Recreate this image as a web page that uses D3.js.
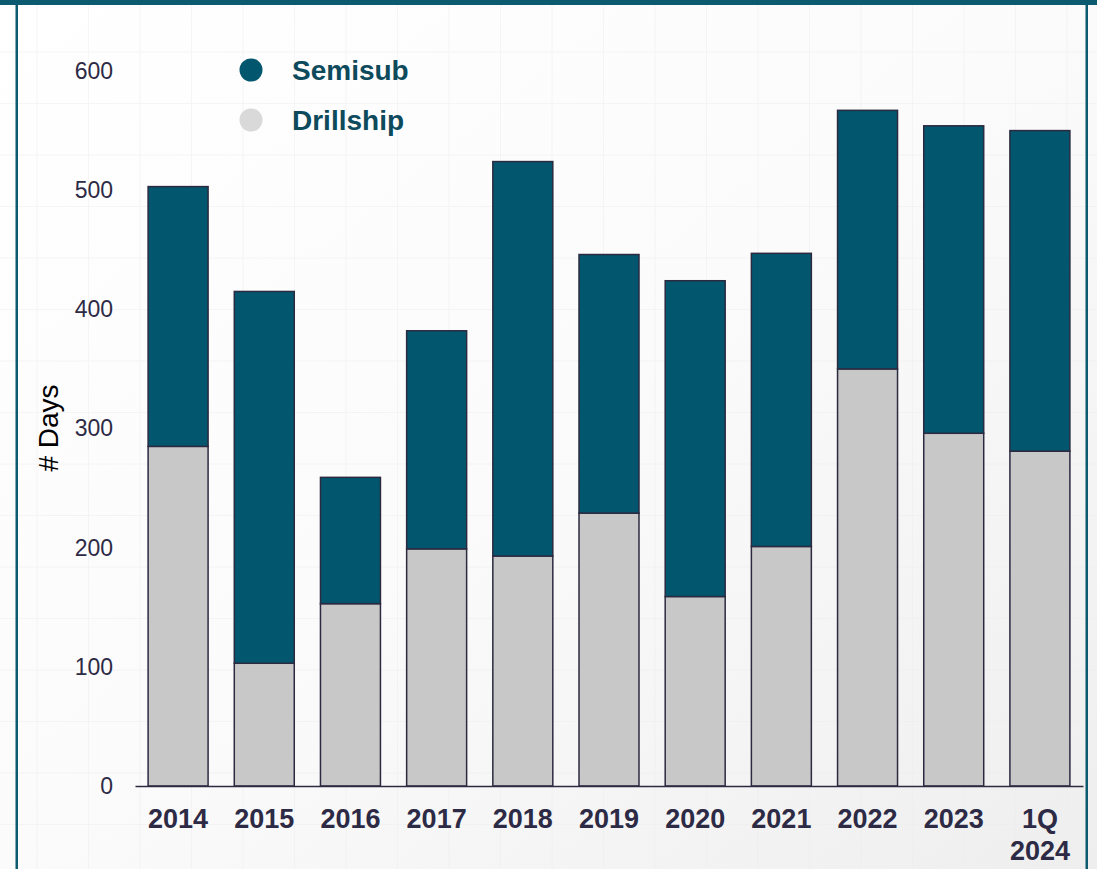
<!DOCTYPE html>
<html>
<head>
<meta charset="utf-8">
<script src="https://cdn.jsdelivr.net/npm/d3@7"></script>
<style>
  body { margin: 0; background: #fff; }
  svg { display: block; font-family: "Liberation Sans", Arial, sans-serif; }
</style>
</head>
<body>
<div id="chart"></div>
<script>
var categories = ["2014", "2015", "2016", "2017", "2018", "2019", "2020", "2021", "2022", "2023", "1Q 2024"];
var drillship = [285, 103, 153, 199, 193, 229, 159, 201, 350, 296, 281];
var semisub   = [218, 312, 106, 183, 331, 217, 265, 246, 217, 258, 269];
var yTicks = [0, 100, 200, 300, 400, 500, 600];
var seriesNames = ["Semisub", "Drillship"];

var width = 1097, height = 869,
    margin = {top: 71, right: 14, bottom: 83, left: 135},
    color = {Semisub: "#02566e", Drillship: "#c8c8c8"};

var svg = d3.select("#chart").append("svg")
    .attr("width", width)
    .attr("height", height);

// background: soft gradient + faint grid
var defs = svg.append("defs");
var grad = defs.append("linearGradient")
    .attr("id", "bg").attr("x1", "0").attr("y1", "0").attr("x2", "1").attr("y2", "1");
grad.append("stop").attr("offset", "0").attr("stop-color", "#ffffff");
grad.append("stop").attr("offset", "0.5").attr("stop-color", "#fbfbfb");
grad.append("stop").attr("offset", "1").attr("stop-color", "#eeeeee");
svg.append("rect").attr("width", width).attr("height", height).attr("fill", "url(#bg)");

var grid = svg.append("g").attr("stroke", "#eeeeee").attr("stroke-width", 1).attr("opacity", 0.5);
d3.range(37, width, 51.5).forEach(function(x) {
  grid.append("line").attr("x1", x).attr("x2", x).attr("y1", 0).attr("y2", height);
});
d3.range(52, height, 51.5).forEach(function(y) {
  grid.append("line").attr("x1", 0).attr("x2", width).attr("y1", y).attr("y2", y);
});

// frame
svg.append("rect").attr("x", 0).attr("y", 0).attr("width", width).attr("height", 5).attr("fill", "#0b5a70");
svg.append("rect").attr("x", 15.5).attr("y", 0).attr("width", 2.5).attr("height", height).attr("fill", "#0b5a70");
svg.append("rect").attr("x", 1085.5).attr("y", 0).attr("width", 2.5).attr("height", height).attr("fill", "#0b5a70");

var data = categories.map(function(c, i) {
  return {cat: c, Drillship: drillship[i], Semisub: semisub[i]};
});

var stack = d3.stack().keys(["Drillship", "Semisub"]);
var layers = stack(data);

var x = d3.scaleBand()
    .domain(categories)
    .range([margin.left, width - margin.right])
    .paddingInner(0.304)
    .paddingOuter(0.152);

var y = d3.scaleLinear()
    .domain([0, 600])
    .range([height - margin.bottom, margin.top]);

// bars
svg.append("g").selectAll("g")
  .data(layers).enter()
  .append("g")
    .attr("fill", function(d) { return color[d.key]; })
  .selectAll("rect")
  .data(function(d) { return d; }).enter()
  .append("rect")
    .attr("x", function(d) { return x(d.data.cat); })
    .attr("y", function(d) { return y(d[1]); })
    .attr("width", x.bandwidth())
    .attr("height", function(d) { return y(d[0]) - y(d[1]); })
    .attr("stroke", "#2b2a40")
    .attr("stroke-width", 1.5);

// y axis
var yAxis = svg.append("g")
    .attr("transform", "translate(" + margin.left + ",0)")
    .call(d3.axisLeft(y).tickValues(yTicks).tickSize(0).tickPadding(22));
yAxis.select(".domain").remove();
yAxis.selectAll("text")
    .attr("fill", "#2d2a45")
    .style("font-size", "23px")
    .style("font-family", "'Liberation Sans', Arial, sans-serif");

// x axis
var xAxis = svg.append("g")
    .attr("transform", "translate(0," + y(0) + ")")
    .call(d3.axisBottom(x).tickSize(0).tickPadding(23));
xAxis.select(".domain")
    .attr("stroke", "#2b2a40")
    .attr("stroke-width", 1.5);
xAxis.selectAll("text")
    .attr("fill", "#2d2a45")
    .style("font-size", "27px")
    .style("font-weight", "bold")
    .style("font-family", "'Liberation Sans', Arial, sans-serif")
    .each(function(d) {
      var parts = d.split(" ");
      if (parts.length < 2) return;
      var t = d3.select(this).text(null);
      parts.forEach(function(p, i) {
        t.append("tspan").attr("x", 0).attr("dy", i ? "1.18em" : "0.71em").text(p);
      });
      t.attr("dy", null);
    });

// y label
svg.append("text")
    .attr("transform", "translate(58,428) rotate(-90)")
    .attr("text-anchor", "middle")
    .attr("fill", "#000")
    .style("font-size", "28px")
    .text("# Days");

// legend
var legend = svg.append("g").selectAll("g")
  .data(seriesNames).enter()
  .append("g")
    .attr("transform", function(d, i) { return "translate(251," + (70 + i * 50) + ")"; });
legend.append("circle")
    .attr("r", 11.5)
    .attr("fill", function(d) { return d === "Drillship" ? "#d9d9d9" : color[d]; });
legend.append("text")
    .attr("x", 41)
    .attr("dy", "0.36em")
    .attr("fill", "#0d4a5c")
    .style("font-size", "28px")
    .style("font-weight", "bold")
    .text(function(d) { return d; });
</script>
</body>
</html>
